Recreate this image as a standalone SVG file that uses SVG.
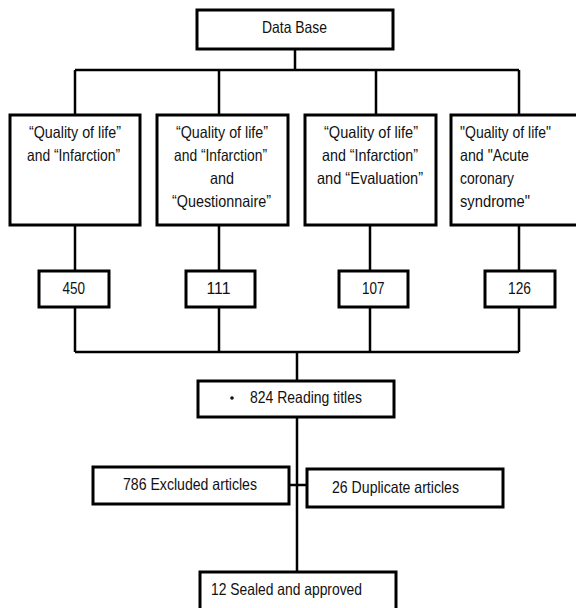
<svg xmlns="http://www.w3.org/2000/svg" width="576" height="608" viewBox="0 0 576 608">
<style>
.box{fill:#fff;stroke:#000;stroke-width:3}
.ln{fill:none;stroke:#000;stroke-width:2.5}
text{font-family:"Liberation Sans Narrow","Liberation Sans",Arial,sans-serif;font-size:16.5px;fill:#111}
.c{text-anchor:middle}
</style>
<rect width="576" height="608" fill="#fff"/>
<g id="connectors">
<path class="ln" d="M295 49V70M75 70H519M75 70V115M219 70V115M376 70V115M519 70V115"/>
<path class="ln" d="M75 225V271M219 225V271M370 225V271M519 225V271"/>
<path class="ln" d="M75 307V352M219 307V352M370 307V352M519 307V352M75 352H519M297 352V381"/>
<path class="ln" d="M297 417V572M289 485H307"/>
</g>
<g id="database"><rect class="box" x="197" y="10" width="196" height="39"/><text x="262" y="33" textLength="65" lengthAdjust="spacingAndGlyphs">Data Base</text></g>
<g id="q1"><rect class="box" x="10" y="115" width="130" height="110"/>
<text x="29" y="138" textLength="92" lengthAdjust="spacingAndGlyphs">“Quality of life”</text>
<text x="27" y="161" textLength="93" lengthAdjust="spacingAndGlyphs">and “Infarction”</text></g>
<g id="q2"><rect class="box" x="157" y="115" width="131" height="110"/>
<text x="176" y="138" textLength="92" lengthAdjust="spacingAndGlyphs">“Quality of life”</text>
<text x="174" y="161" textLength="93" lengthAdjust="spacingAndGlyphs">and “Infarction”</text>
<text x="210" y="184" textLength="24" lengthAdjust="spacingAndGlyphs">and</text>
<text x="172" y="207" textLength="99" lengthAdjust="spacingAndGlyphs">“Questionnaire”</text></g>
<g id="q3"><rect class="box" x="305" y="115" width="131" height="110"/>
<text x="324" y="138" textLength="94" lengthAdjust="spacingAndGlyphs">“Quality of life”</text>
<text x="322" y="161" textLength="96" lengthAdjust="spacingAndGlyphs">and “Infarction”</text>
<text x="317" y="184" textLength="106" lengthAdjust="spacingAndGlyphs">and “Evaluation”</text></g>
<g id="q4"><rect class="box" x="451" y="115" width="140" height="110"/>
<text x="460" y="138" textLength="91" lengthAdjust="spacingAndGlyphs">"Quality of life"</text>
<text x="460" y="161" textLength="69" lengthAdjust="spacingAndGlyphs">and "Acute</text>
<text x="460" y="184" textLength="54" lengthAdjust="spacingAndGlyphs">coronary</text>
<text x="460" y="207" textLength="70" lengthAdjust="spacingAndGlyphs">syndrome"</text></g>
<g id="n450"><rect class="box" x="39" y="271" width="70" height="36"/><text x="62.5" y="294" textLength="22.5" lengthAdjust="spacingAndGlyphs">450</text></g>
<g id="n111"><rect class="box" x="186" y="271" width="69" height="36"/><text x="206.5" y="294" textLength="24" lengthAdjust="spacingAndGlyphs">111</text></g>
<g id="n107"><rect class="box" x="339" y="271" width="69" height="36"/><text x="362" y="294" textLength="22.5" lengthAdjust="spacingAndGlyphs">107</text></g>
<g id="n126"><rect class="box" x="485" y="271" width="70" height="36"/><text x="508" y="294" textLength="23" lengthAdjust="spacingAndGlyphs">126</text></g>
<g id="reading"><rect class="box" x="198" y="381" width="196" height="36"/>
<circle cx="232" cy="398" r="1.8" fill="#111"/>
<text x="250" y="403" textLength="112" lengthAdjust="spacingAndGlyphs">824 Reading titles</text></g>
<g id="excluded"><rect class="box" x="93" y="467" width="196" height="37"/><text x="123" y="490" textLength="134" lengthAdjust="spacingAndGlyphs">786 Excluded articles</text></g>
<g id="duplicate"><rect class="box" x="307" y="469" width="196" height="38"/><text x="332" y="493" textLength="127" lengthAdjust="spacingAndGlyphs">26 Duplicate articles</text></g>
<g id="sealed"><rect class="box" x="200" y="572" width="196" height="40"/><text x="211" y="595" textLength="151" lengthAdjust="spacingAndGlyphs">12 Sealed and approved</text></g>
</svg>
